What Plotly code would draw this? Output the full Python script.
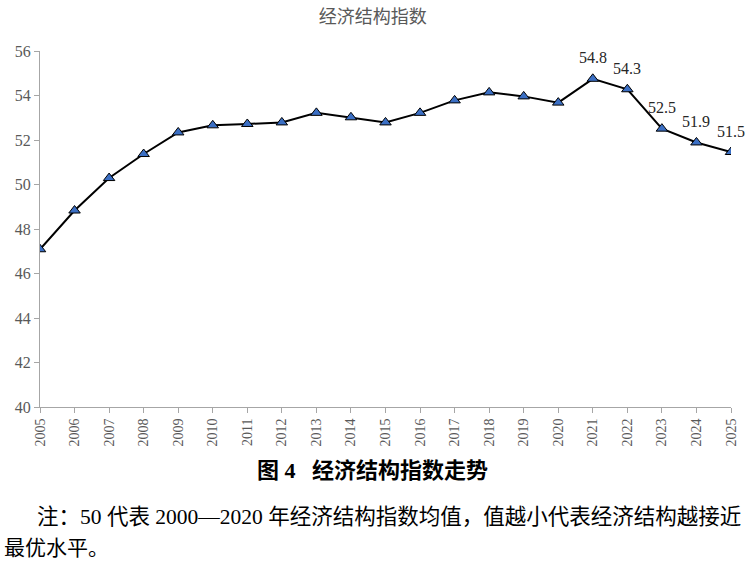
import plotly.graph_objects as go

years = list(range(2005, 2026))
index_values = [47.09, 48.83, 50.29, 51.37, 52.34, 52.66, 52.72, 52.79, 53.22, 53.02, 52.79,
                53.22, 53.78, 54.14, 53.96, 53.68, 54.75, 54.28, 52.51, 51.89, 51.46]
label_years = [2021, 2022, 2023, 2024, 2025]
label_text = ["54.8", "54.3", "52.5", "51.9", "51.5"]

serif = "Liberation Serif, Times New Roman, Noto Sans CJK SC"
grey = "#595959"
plot_w = 750 - 40 - 19
plot_h = 564 - 51 - 157

fig = go.Figure()
fig.add_trace(
    go.Scatter(
        x=years,
        y=index_values,
        mode="lines+markers",
        line=dict(color="black", width=2),
        marker=dict(symbol="triangle-up", size=10, color="#3b6fc4",
                    line=dict(color="black", width=1)),
        showlegend=False,
        hoverinfo="x+y",
    )
)

# data labels for the last five years
for yr, txt in zip(label_years, label_text):
    fig.add_annotation(
        x=yr, y=index_values[years.index(yr)], text=txt, showarrow=False, yshift=21,
        font=dict(family=serif, size=16, color="#262626"),
    )

fig.update_layout(
    width=750,
    height=564,
    margin=dict(l=40, r=19, t=51, b=157),
    paper_bgcolor="white",
    plot_bgcolor="white",
    title=dict(
        text="经济结构指数", x=0.497, xanchor="center", y=1 - 17 / 564, yanchor="middle",
        font=dict(family="Noto Sans CJK SC", size=18, color=grey),
    ),
    xaxis=dict(
        range=[2005, 2025],
        tickmode="array",
        tickvals=years,
        ticktext=[str(y) for y in years],
        tickangle=-90,
        tickfont=dict(family=serif, size=14, color=grey),
        showline=True,
        linecolor="#a6a6a6",
        linewidth=1,
        ticks="outside",
        ticklen=5,
        tickcolor="#a6a6a6",
        showgrid=False,
        zeroline=False,
    ),
    yaxis=dict(
        range=[40, 56],
        tickvals=[40, 42, 44, 46, 48, 50, 52, 54, 56],
        tickfont=dict(family=serif, size=16, color=grey),
        showline=True,
        linecolor="#a6a6a6",
        linewidth=1,
        ticks="outside",
        ticklen=5,
        tickcolor="#a6a6a6",
        showgrid=False,
        zeroline=False,
    ),
)

# figure caption and note below the chart
bottom = 564 - 157
fig.add_annotation(
    x=(372 - 40) / plot_w, y=-(470 - bottom) / plot_h, xref="paper", yref="paper",
    xanchor="center", yanchor="middle",
    text="<b>图 4   经济结构指数走势</b>", showarrow=False,
    font=dict(family=serif, size=22, color="black"),
)
fig.add_annotation(
    x=(35 - 40) / plot_w, y=-(517 - bottom) / plot_h, xref="paper", yref="paper",
    xanchor="left", yanchor="middle",
    text="注：50 代表 2000—2020 年经济结构指数均值，值越小代表经济结构越接近",
    showarrow=False, font=dict(family=serif, size=21.5, color="black"),
)
fig.add_annotation(
    x=(2 - 40) / plot_w, y=-(548 - bottom) / plot_h, xref="paper", yref="paper",
    xanchor="left", yanchor="middle",
    text="最优水平。", showarrow=False,
    font=dict(family=serif, size=21, color="black"),
)

fig.write_html(
    "out.html",
    config={"displayModeBar": False},
    post_script="document.body.style.margin='0';",
)
